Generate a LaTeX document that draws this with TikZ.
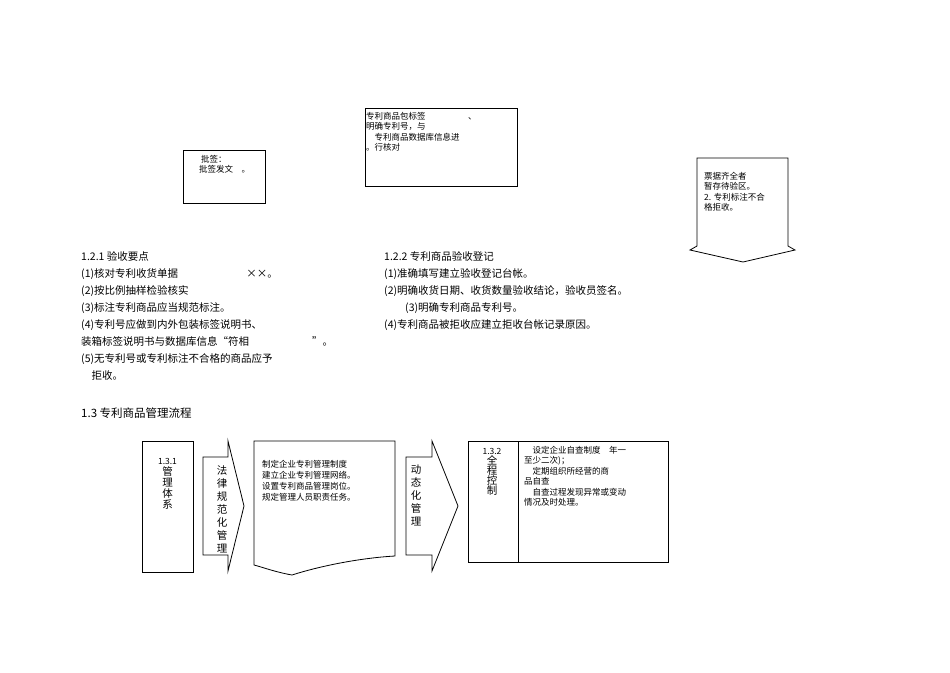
\documentclass[tikz,border=0pt]{standalone}
\usepackage{fontspec}
\setmainfont{Noto Sans CJK SC}
\begin{document}
\begin{tikzpicture}[x=1pt,y=-1pt,
  box/.style={draw,line width=0.8pt},
  lst/.style={anchor=north west,inner sep=0pt,font=\fontsize{10.5}{17}\selectfont,align=left},
  sm/.style={anchor=north west,inner sep=0pt,font=\fontsize{8.5}{10.5}\selectfont,align=left},
  vt/.style={anchor=north,inner sep=0pt,font=\fontsize{10.5}{13}\selectfont,align=center}]
\useasboundingbox (0,0) rectangle (950,672);
% top boxes
\draw[box] (365,108) rectangle (517,186);
\node[sm] (t1) at (366,112) {专利商品包标签\hspace{5em}、\\明确专利号，与\\\quad 专利商品数据库信息进\\。行核对};
\draw[box] (183,150) rectangle (265,203);
\node[sm] (t2) at (199,155) {\ 批签：\\批签发文\quad 。};
% down arrow
\draw[box] (697,158) -- (788,158) -- (788,246) -- (795,250) -- (743,262) -- (690,250) -- (697,246) -- cycle;
\node[sm] (t3) at (704,172) {票据齐全者\\暂存待验区。\\2. 专利标注不合\\格拒收。};
% lists
\node[lst] (l1) at (81,251) {1.2.1 验收要点\\(1)核对专利收货单据\hspace{6.5em}××。\\(2)按比例抽样检验核实\\(3)标注专利商品应当规范标注。\\(4)专利号应做到内外包装标签说明书、\\ 装箱标签说明书与数据库信息“符相\hspace{6em}”。\\(5)无专利号或专利标注不合格的商品应予\\\quad 拒收。};
\node[lst] (l2) at (384,251) {1.2.2 专利商品验收登记\\(1)准确填写建立验收登记台帐。\\(2)明确收货日期、收货数量验收结论，验收员签名。\\\qquad (3)明确专利商品专利号。\\(4)专利商品被拒收应建立拒收台帐记录原因。};
\node[lst,font=\fontsize{11.5}{14}\selectfont] (h) at (81,408) {1.3 专利商品管理流程};
% bottom flow
\draw[box] (142,441) rectangle (193,572);
\node[vt,font=\fontsize{8.5}{13}\selectfont] (a1) at (167.5,458) {1.3.1\\[-2pt]{\fontsize{10.5}{13}\selectfont 管}\\[-2pt]{\fontsize{10.5}{13}\selectfont 理}\\[-2pt]{\fontsize{10.5}{13}\selectfont 体}\\[-2pt]{\fontsize{10.5}{13}\selectfont 系}};
\draw[box] (203,457) -- (228,457) -- (228,441) -- (244,506) -- (228,571) -- (228,555) -- (203,555) -- cycle;
\node[vt] (a2) at (222,465) {法\\律\\规\\范\\化\\管\\理};
\draw[box] (254,441) -- (395,441) -- (395,556) .. controls (360,558) and (320,566) .. (292,575) .. controls (275,572) and (262,567) .. (254,565) -- cycle;
\node[sm,font=\fontsize{8.5}{11}\selectfont] (a3) at (262,460) {制定企业专利管理制度\\建立企业专利管理网络。\\设置专利商品管理岗位。\\规定管理人员职责任务。};
\draw[box] (406,457) -- (432,457) -- (432,441) -- (458,506) -- (432,571) -- (432,555) -- (406,555) -- cycle;
\node[vt] (a4) at (416,465) {动\\态\\化\\管\\理};
\draw[box] (468,441) rectangle (668,562);
\draw[box] (518,441) -- (518,562);
\node[vt,font=\fontsize{8.5}{13}\selectfont] (a5) at (492,448) {1.3.2\\[-3pt]{\fontsize{10.5}{12}\selectfont 全}\\[-3pt]{\fontsize{10.5}{12}\selectfont 程}\\[-3pt]{\fontsize{10.5}{12}\selectfont 控}\\[-3pt]{\fontsize{10.5}{12}\selectfont 制}};
\node[sm,font=\fontsize{8.5}{10.5}\selectfont] (a6) at (524,446) {\quad 设定企业自查制度\quad 年一\\至少二次)；\\\quad 定期组织所经营的商\\品自查\\\quad 自查过程发现异常或变动\\情况及时处理。};
\end{tikzpicture}
\end{document}
